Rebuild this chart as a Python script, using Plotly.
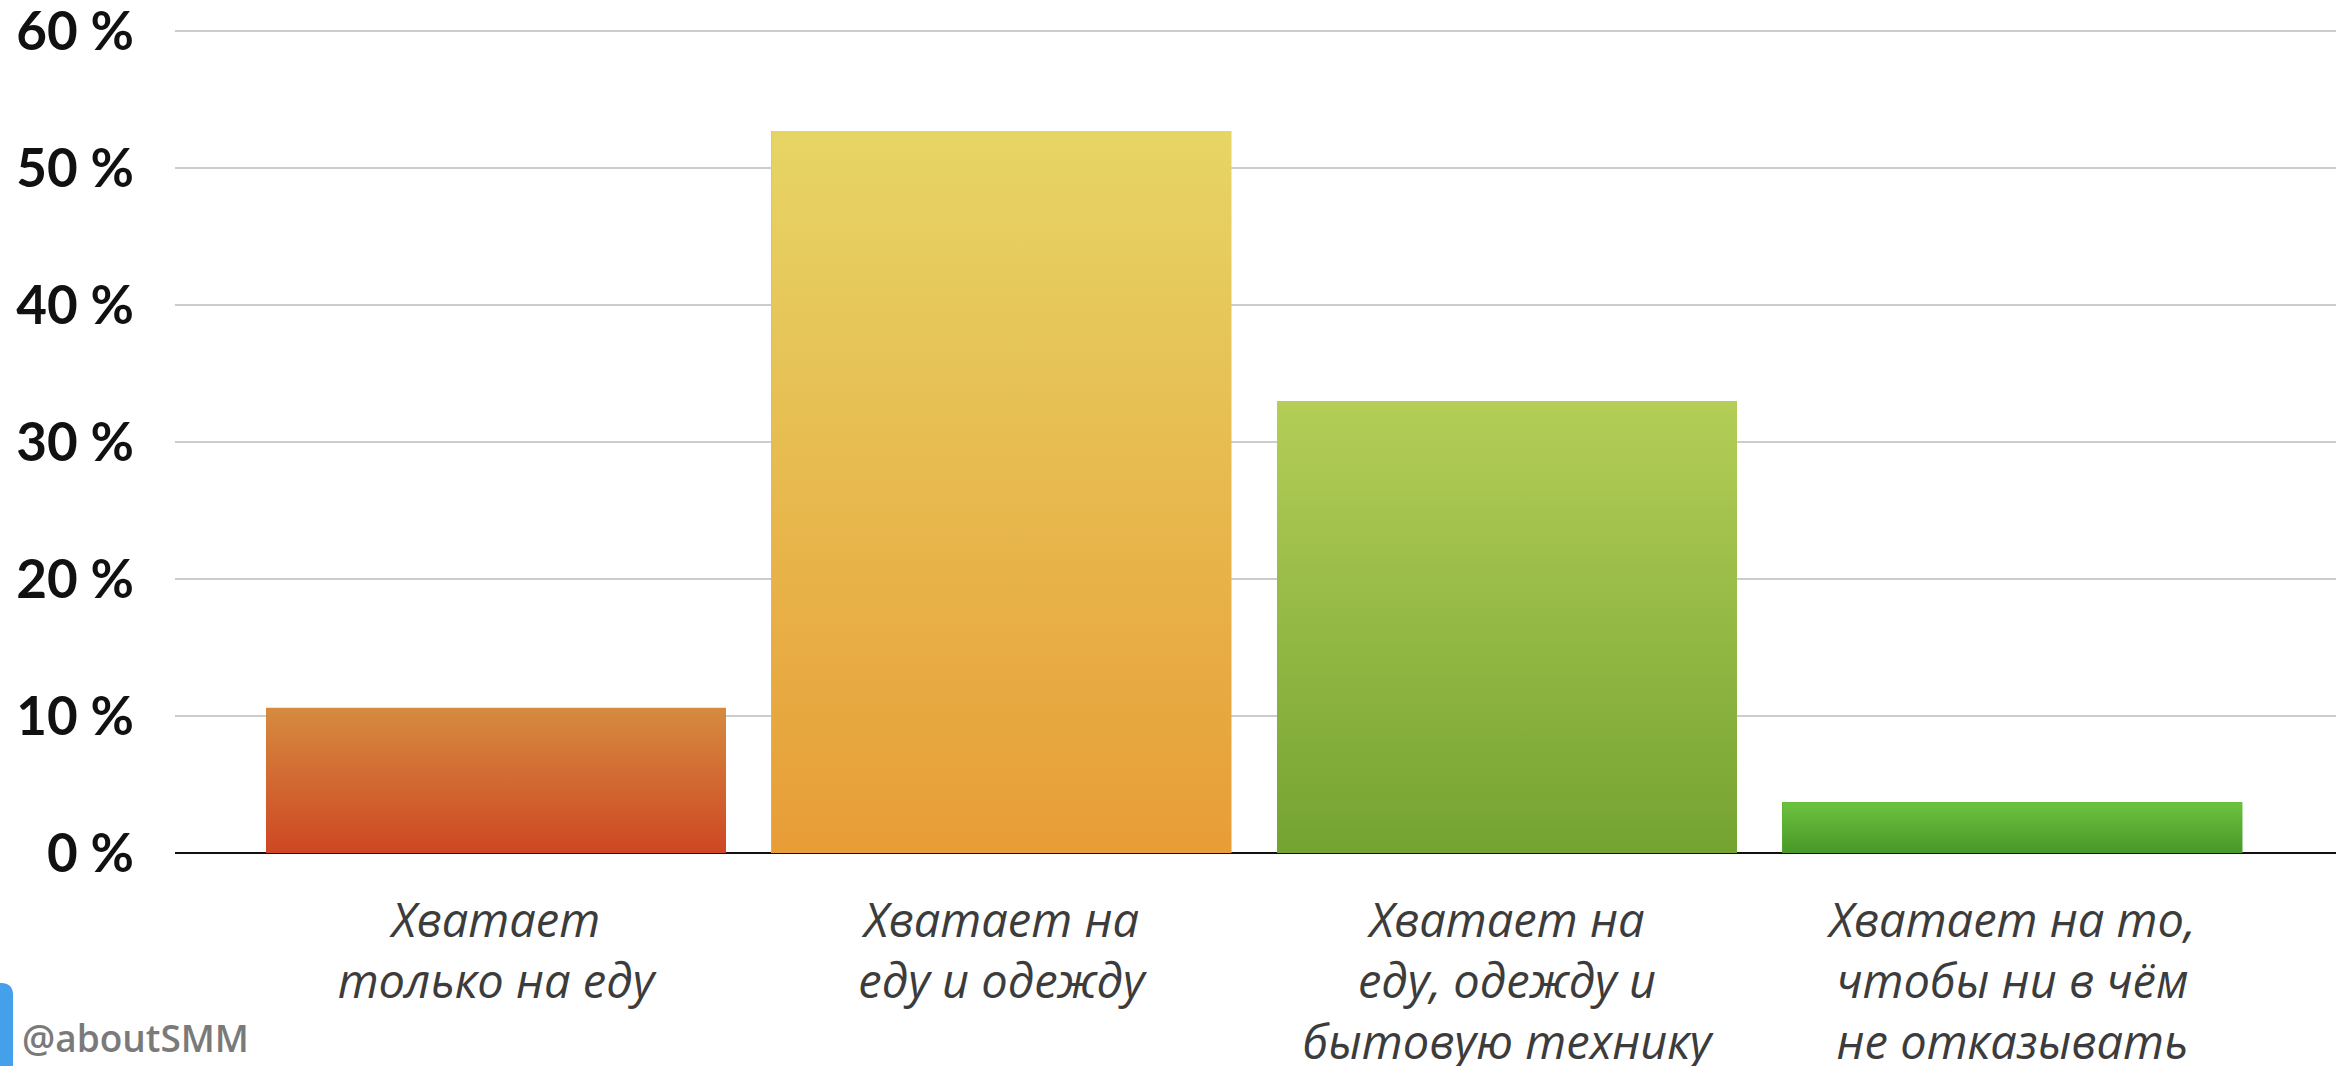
import plotly.graph_objects as go

# ---- data ----
categories = [
    "Хватает<br>только на еду",
    "Хватает на<br>еду и одежду",
    "Хватает на<br>еду, одежду и<br>бытовую технику",
    "Хватает на то,<br>чтобы ни в чём<br>не отказывать",
]
values = [10.6, 52.7, 33.0, 3.7]
y_ticks = [0, 10, 20, 30, 40, 50, 60]
y_tick_labels = ["0 %", "10 %", "20 %", "30 %", "40 %", "50 %", "60 %"]

# ---- styles ----
top_colors = ["#d68b40", "#e6d565", "#b4ce57", "#6cc23f"]
bottom_colors = ["#ce4723", "#e89d37", "#74a332", "#489828"]
mid_colors = ["#d2683a", "#e7ba4d", "#94b845", "#5aad34"]
bar_width = 0.91

W, H = 2343, 1066
L, R, T, B = 175, 7, 27, 213
pw, ph = W - L - R, H - T - B


def px(x):
    return (x - L) / pw


def py(y):
    return (H - B - y) / ph


fig = go.Figure()
xs = list(range(len(values)))
fig.add_trace(go.Bar(
    x=xs, y=values, width=bar_width,
    marker=dict(color=mid_colors, line=dict(width=0)),
    hoverinfo="skip", showlegend=False,
))

# vertical gradient overlay, derived from the same values
for i, v in enumerate(values):
    hw = bar_width / 2
    fig.add_trace(go.Scatter(
        x=[i - hw, i + hw, i + hw, i - hw, i - hw],
        y=[0, 0, v, v, 0],
        mode="lines", line=dict(width=0), fill="toself",
        fillgradient=dict(type="vertical",
                          colorscale=[[0, bottom_colors[i]], [1, top_colors[i]]]),
        hoverinfo="skip", showlegend=False,
    ))

# logo block (bottom-left)
x0, x1 = px(-40), px(13)
yt, yb = py(983), py(1070)
rx = 12 / pw
ry = 12 / ph
fig.add_shape(
    type="path", xref="paper", yref="paper",
    path=(f"M {x0},{yb} L {x0},{yt} L {x1 - rx},{yt} "
          f"Q {x1},{yt} {x1},{yt - ry} L {x1},{yb} Z"),
    fillcolor="#45a0ec", line=dict(width=0), layer="above",
)
fig.add_annotation(
    text="@aboutSMM", xref="paper", yref="paper",
    x=px(20), y=py(1037), xanchor="left", yanchor="middle",
    showarrow=False,
    font=dict(family="Open Sans", size=37, color="#7a7a7a", weight=600),
)

fig.update_layout(
    width=W, height=H,
    margin=dict(l=L, r=R, t=T, b=B, autoexpand=False),
    paper_bgcolor="white", plot_bgcolor="white",
    showlegend=False,
    bargap=0,
    xaxis=dict(
        range=[-0.635, 3.64],
        tickmode="array", tickvals=xs, ticktext=categories,
        showgrid=False, zeroline=False, showline=False,
        ticks="", ticklabelstandoff=36, automargin=False,
        ticklabeloverflow="allow",
        tickfont=dict(family="Open Sans", size=47, color="#3c3c3c", style="italic"),
        fixedrange=True,
    ),
    yaxis=dict(
        range=[0, 60.3],
        tickmode="array", tickvals=y_ticks, ticktext=y_tick_labels,
        showgrid=True, gridcolor="#cccccc", gridwidth=2,
        zeroline=True, zerolinecolor="#111111", zerolinewidth=2,
        showline=False, ticks="", ticklabelstandoff=40, automargin=False,
        ticklabeloverflow="allow",
        tickfont=dict(family="Lato", size=53, color="#111111", weight="bold"),
        fixedrange=True,
    ),
)

fig.write_html(
    "out.html",
    config={"displayModeBar": False},
    post_script="document.body.style.margin='0';document.body.style.overflow='hidden';",
)
